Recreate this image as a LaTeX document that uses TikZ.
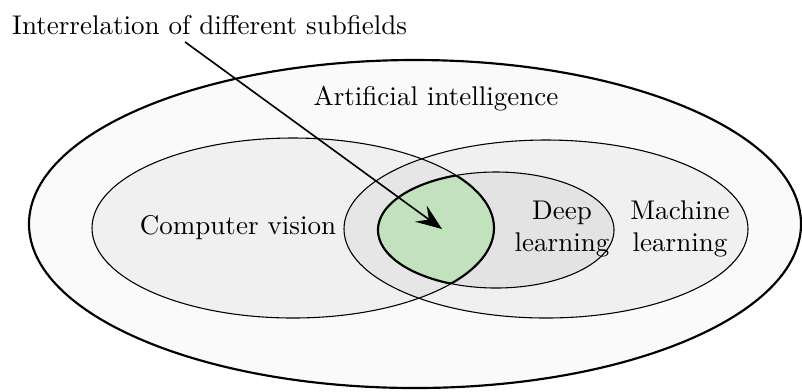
\documentclass[tikz,border=0pt]{standalone}
\usepackage{amsmath,amsfonts}
\usetikzlibrary{positioning,calc,arrows.meta}

\definecolor{subgreen}{HTML}{C2E2BE}
\definecolor{dlgray}{HTML}{E3E3E3}

\begin{document}
\begin{tikzpicture}[
            x=0.013cm, y=-0.013cm,
            field label/.style={font=\normalsize, align=center, inner sep=1pt},
            outer field/.style={draw, thick, fill=black!2},
            sub field/.style={draw, thin, fill=black, fill opacity=0.04, draw opacity=1},
            pointer/.style={draw, semithick, -{Stealth[length=3.4mm,width=2.6mm,inset=1.3mm]}},
        ]
            \useasboundingbox (0,0) rectangle (802,391);

            % ellipses
            \path[outer field] (415,224) ellipse [x radius=386, y radius=164];
            \path[sub field] (293,228) ellipse [x radius=201, y radius=90];
            \path[sub field] (546,229) ellipse [x radius=202, y radius=89];
            \path[draw, thin, fill=dlgray] (496,230) ellipse [x radius=118, y radius=58];

            % overlap of computer vision and deep learning
            \begin{scope}
                \clip (293,228) ellipse [x radius=201, y radius=90];
                \fill[subgreen] (496,230) ellipse [x radius=118, y radius=58];
                \draw[thick] (496,230) ellipse [x radius=118, y radius=58];
            \end{scope}
            \begin{scope}
                \clip (496,230) ellipse [x radius=118, y radius=58];
                \draw[thick] (293,228) ellipse [x radius=201, y radius=90];
            \end{scope}

            \node[field label] (ai) at (436,99) {Artificial intelligence};
            \node[field label] (cv) at (238,228) {Computer vision};
            \node[field label] (dl) at (562,229) {Deep\\learning};
            \node[field label] (ml) at (680,229) {Machine\\learning};

            \node[field label, anchor=west] (title) at (9,25) {Interrelation of different subfields};
            \coordinate (overlap) at (442,229);

            \path[pointer] ($(title.south west)+(176,4)$) -- (overlap);
        \end{tikzpicture}
\end{document}
